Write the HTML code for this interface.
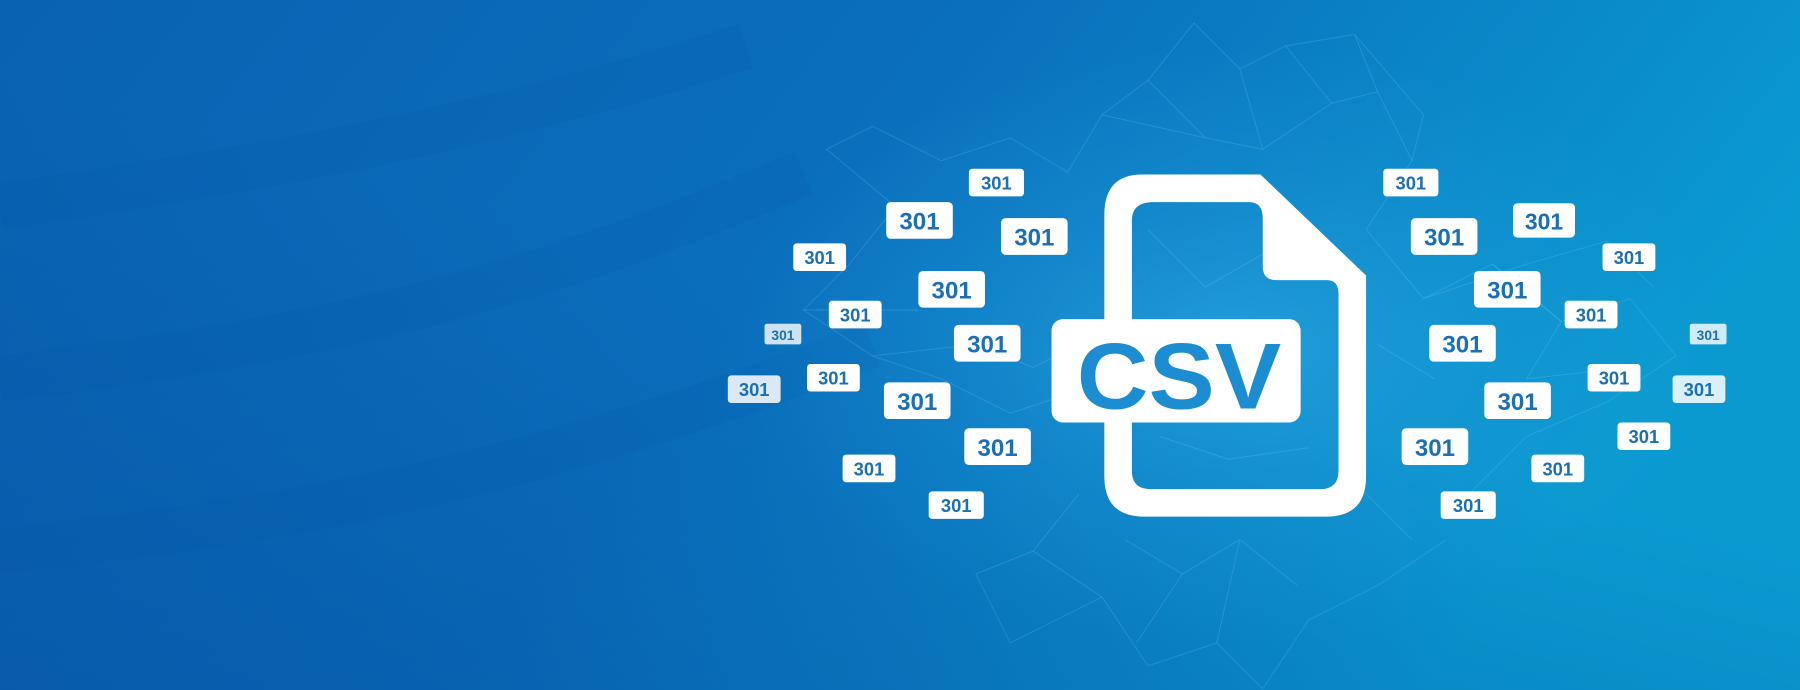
<!DOCTYPE html>
<html><head><meta charset="utf-8"><style>
html,body{margin:0;padding:0;width:1800px;height:690px;overflow:hidden}
svg{display:block}
</style></head><body>
<svg width="1800" height="690" viewBox="0 0 1568 601" preserveAspectRatio="none" xmlns="http://www.w3.org/2000/svg">
<defs>
<linearGradient id="bg" x1="0" y1="0" x2="1" y2="0.3">
<stop offset="0" stop-color="#0a62b2"/>
<stop offset="0.5" stop-color="#0a6fbd"/>
<stop offset="1" stop-color="#0a9ad0"/>
</linearGradient>
<linearGradient id="dark" x1="0" y1="1" x2="0.7" y2="0">
<stop offset="0" stop-color="#0650a0" stop-opacity="0.55"/>
<stop offset="0.6" stop-color="#0650a0" stop-opacity="0"/>
</linearGradient>
<radialGradient id="glow" cx="0.5" cy="0.5" r="0.5">
<stop offset="0" stop-color="#3ab4ea" stop-opacity="0.5"/>
<stop offset="0.6" stop-color="#2aa0e0" stop-opacity="0.2"/>
<stop offset="1" stop-color="#2aa0e0" stop-opacity="0"/>
</radialGradient>
</defs>
<rect width="1568" height="601" fill="url(#bg)"/>
<rect width="1568" height="601" fill="url(#dark)"/>
<g fill="none" stroke="#0856a6" stroke-opacity="0.12" stroke-width="40">
<path d="M0,180 C200,150 400,120 650,40"/>
<path d="M0,330 C250,300 450,260 700,150"/>
<path d="M0,480 C300,450 500,400 760,300"/>
</g>
<ellipse cx="1075" cy="300" rx="430" ry="260" fill="url(#glow)"/>
<g stroke="#8fd6f5" stroke-opacity="0.22" stroke-width="0.8" fill="none">
<path d="M1040,20 L1080,60 L1120,40 L1160,90 L1200,80 L1230,140 L1190,200 L1240,260 L1300,230 L1360,280 L1420,260 L1460,310 L1400,350 L1330,380 L1280,430"/>
<path d="M1040,20 L1000,70 L960,100 L930,150 L880,120 L820,140 L760,110 L720,130 L780,180 L740,230 L700,270 L760,310 L820,330"/>
<path d="M900,480 L960,520 L1000,580 L1060,560 L1100,600 L1140,540 L1200,510 L1260,470"/>
<path d="M1080,60 L1100,130 L1160,90 M1100,130 L1050,120 L1000,70 M960,100 L1050,120"/>
<path d="M1240,260 L1330,230 L1400,210 L1440,250 M1300,230 L1360,280 L1330,330 L1420,320"/>
<path d="M760,310 L850,300 L900,320 L940,300 M820,330 L880,360 L940,340 M700,270 L800,270"/>
<path d="M980,470 L1030,500 L1080,470 L1130,510 M1030,500 L990,560 M1080,470 L1060,560"/>
<path d="M1200,80 L1180,30 L1120,40 M1180,30 L1240,100 L1230,140"/>
<path d="M850,500 L900,480 L940,430 M850,500 L880,560 L960,520"/>
<path d="M1000,200 L1050,250 L1120,210 M1010,380 L1070,400 L1140,390 M1200,300 L1250,330 M1180,420 L1230,470"/>
</g>
<path fill="#fff" fill-rule="evenodd" d="M995,152 L1098,152 L1190,240 L1190,415 Q1190,450 1155,450 L997,450 Q962,450 962,415 L962,187 Q962,152 995,152 Z M1005,176 L1088,176 Q1100,176 1100,190 L1100,232 Q1100,244 1112,244 L1156,244 Q1166,244 1166,256 L1166,410 Q1166,426 1150,426 L1002,426 Q986,426 986,410 L986,192 Q986,176 1005,176 Z"/>
<rect x="916" y="278" width="217" height="90" rx="10" fill="#fff"/>
<text x="938" y="356" font-family="Liberation Sans, sans-serif" font-weight="bold" font-size="82" fill="#1b8dd0" textLength="178" lengthAdjust="spacingAndGlyphs">CSV</text>
<g font-family="Liberation Sans, sans-serif" font-weight="bold" fill="#1a6fb5" text-anchor="middle">
<g font-size="21">
<rect x="772" y="176" width="58" height="32" rx="4" fill="#fff"/><text x="801" y="200">301</text>
<rect x="872" y="190" width="58" height="32" rx="4" fill="#fff"/><text x="901" y="214">301</text>
<rect x="800" y="236" width="58" height="32" rx="4" fill="#fff"/><text x="829" y="260">301</text>
<rect x="831" y="283" width="58" height="32" rx="4" fill="#fff"/><text x="860" y="307">301</text>
<rect x="770" y="333" width="58" height="32" rx="4" fill="#fff"/><text x="799" y="357">301</text>
<rect x="840" y="373" width="58" height="32" rx="4" fill="#fff"/><text x="869" y="397">301</text>
<rect x="1229" y="190" width="58" height="32" rx="4" fill="#fff"/><text x="1258" y="214">301</text>
<rect x="1284" y="236" width="58" height="32" rx="4" fill="#fff"/><text x="1313" y="260">301</text>
<rect x="1245" y="283" width="58" height="32" rx="4" fill="#fff"/><text x="1274" y="307">301</text>
<rect x="1293" y="333" width="58" height="32" rx="4" fill="#fff"/><text x="1322" y="357">301</text>
<rect x="1221" y="373" width="58" height="32" rx="4" fill="#fff"/><text x="1250" y="397">301</text>
<rect x="1318" y="177" width="54" height="30" rx="4" fill="#fff"/><text x="1345" y="200" font-size="20">301</text>
</g>
<g font-size="16">
<rect x="844" y="147" width="48" height="24" rx="3" fill="#fff"/><text x="868" y="165">301</text>
<rect x="691" y="212" width="46" height="24" rx="3" fill="#fff"/><text x="714" y="230">301</text>
<rect x="722" y="262" width="46" height="24" rx="3" fill="#fff"/><text x="745" y="280">301</text>
<rect x="703" y="317" width="46" height="24" rx="3" fill="#fff"/><text x="726" y="335">301</text>
<rect x="734" y="396" width="46" height="24" rx="3" fill="#fff"/><text x="757" y="414">301</text>
<rect x="809" y="428" width="48" height="24" rx="3" fill="#fff"/><text x="833" y="446">301</text>
<rect x="634" y="327" width="46" height="24" rx="3" fill="#fff" opacity="0.85"/><text x="657" y="345">301</text>
<rect x="666" y="282" width="32" height="18" rx="2" fill="#fff" opacity="0.8"/><text x="682" y="296" font-size="12">301</text>
<rect x="1205" y="147" width="48" height="24" rx="3" fill="#fff"/><text x="1229" y="165">301</text>
<rect x="1396" y="212" width="46" height="24" rx="3" fill="#fff"/><text x="1419" y="230">301</text>
<rect x="1363" y="262" width="46" height="24" rx="3" fill="#fff"/><text x="1386" y="280">301</text>
<rect x="1383" y="317" width="46" height="24" rx="3" fill="#fff"/><text x="1406" y="335">301</text>
<rect x="1409" y="368" width="46" height="24" rx="3" fill="#fff"/><text x="1432" y="386">301</text>
<rect x="1334" y="396" width="46" height="24" rx="3" fill="#fff"/><text x="1357" y="414">301</text>
<rect x="1255" y="428" width="48" height="24" rx="3" fill="#fff"/><text x="1279" y="446">301</text>
<rect x="1457" y="327" width="46" height="24" rx="3" fill="#fff" opacity="0.85"/><text x="1480" y="345">301</text>
<rect x="1472" y="282" width="32" height="18" rx="2" fill="#fff" opacity="0.8"/><text x="1488" y="296" font-size="12">301</text>
</g>
</g>
</svg>
</body></html>
